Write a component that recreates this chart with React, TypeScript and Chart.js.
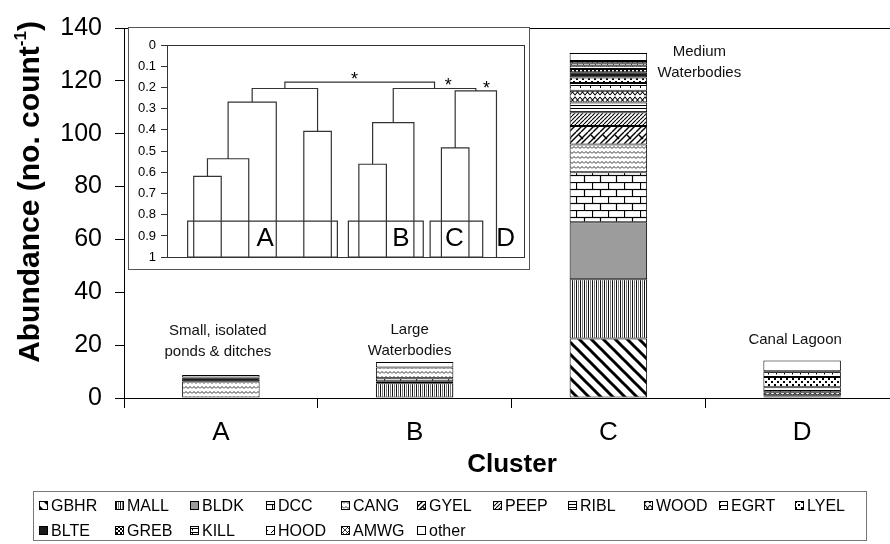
import React, { useEffect, useRef } from 'react';
import { Chart, registerables } from 'chart.js';

Chart.register(...registerables);

const FONT = '"Liberation Sans", Arial, Helvetica, sans-serif';

// ---------- main chart data ----------
const clusters = ['A', 'B', 'C', 'D'];
const yMin = 0;
const yMax = 140;
const yStep = 20;

const species = ['GBHR', 'MALL', 'BLDK', 'DCC', 'CANG', 'GYEL', 'PEEP', 'RIBL', 'WOOD', 'EGRT', 'LYEL', 'BLTE', 'GREB', 'KILL', 'HOOD', 'AMWG', 'other'];

// abundance per cluster [A, B, C, D]
const GBHR = [null, null, 22.5, 0.6];
const MALL = [null, 5.6, 22.4, 0.4];
const BLDK = [null, 0.7, 21.6, null];
const DCC = [null, 1.2, 18.9, null];
const CANG = [6.3, 4.0, 10.5, null];
const GYEL = [null, null, 7.0, null];
const PEEP = [null, null, 5.2, null];
const RIBL = [null, null, 3.7, null];
const WOOD = [null, null, 4.5, 1.2];
const EGRT = [null, null, 2.9, 1.9];
const LYEL = [null, null, 2.1, 3.8];
const BLTE = [1.5, null, 2.0, null];
const GREB = [null, null, 1.2, null];
const KILL = [null, null, 1.2, 2.2];
const HOOD = [null, null, 1.0, null];
const AMWG = [null, null, 0.8, null];
const other = [0.9, 2.1, 3.0, 4.1];

const seriesValues = [GBHR, MALL, BLDK, DCC, CANG, GYEL, PEEP, RIBL, WOOD, EGRT, LYEL, BLTE, GREB, KILL, HOOD, AMWG, other];

const clusterNotes = [
  ['Small, isolated', 'ponds & ditches'],
  ['Large', 'Waterbodies'],
  ['Medium', 'Waterbodies'],
  ['Canal Lagoon'],
];

// ---------- inset dendrogram data ----------
const leafCount = 12;
const mergeLeft = [0, 12, 13, 4, 14, 6, 17, 9, 19, 18, 16];
const mergeRight = [1, 2, 3, 5, 15, 7, 8, 10, 11, 20, 21];
const mergeHeight = [0.619, 0.536, 0.269, 0.407, 0.205, 0.562, 0.366, 0.485, 0.216, 0.205, 0.175];
const groupBoxStart = [-0.22, 5.62, 8.59];
const groupBoxEnd = [5.22, 8.34, 10.5];
const groupBoxTop = 0.83;
const groupNames = ['A', 'B', 'C', 'D'];
const groupLabelX = [2.6, 7.53, 9.47, 11.33];
const groupLabelY = 0.915;
const starX = [5.84, 9.25, 10.64];
const starY = [0.145, 0.175, 0.187];

// ---------- layout / style constants ----------
const noteLayout = [
  { dx: -3, dy: -44 },
  { dx: -5, dy: -32 },
  { dx: 91, dy: -1 },
  { dx: -7, dy: -21 },
];
const legendLayout = { left: 39, colWidth: 75.6, perRow: 11, rowY: [506, 531] };

function makePatterns(ctx: CanvasRenderingContext2D): any[] {
  const tile = (w: number, h: number, draw: (g: CanvasRenderingContext2D) => void) => {
    const c = document.createElement('canvas');
    c.width = w;
    c.height = h;
    const g = c.getContext('2d')!;
    g.fillStyle = '#fff';
    g.fillRect(0, 0, w, h);
    g.strokeStyle = '#000';
    g.fillStyle = '#000';
    g.lineWidth = 1;
    draw(g);
    return ctx.createPattern(c, 'repeat');
  };
  const line = (g: CanvasRenderingContext2D, pts: number[][]) => {
    g.beginPath();
    g.moveTo(pts[0][0], pts[0][1]);
    for (let i = 1; i < pts.length; i++) g.lineTo(pts[i][0], pts[i][1]);
    g.stroke();
  };
  return [
    // GBHR
    tile(12, 12, g => { g.lineWidth = 3; for (const o of [-12, 0, 12]) line(g, [[o - 1, -1], [o + 13, 13]]); }),
    // MALL
    tile(4, 4, g => { g.fillStyle = '#111'; g.fillRect(0, 0, 1, 4); g.fillStyle = '#777'; g.fillRect(2, 0, 1, 4); }),
    // BLDK
    '#9c9c9c',
    // DCC
    tile(16, 14, g => {
      g.lineWidth = 1.2;
      line(g, [[0, 0.5], [16, 0.5]]); line(g, [[0, 7.5], [16, 7.5]]);
      line(g, [[0.5, 0], [0.5, 7.5]]); line(g, [[8.5, 7.5], [8.5, 14]]);
    }),
    // CANG
    tile(8, 5, g => { g.strokeStyle = '#333'; line(g, [[0, 3.5], [2, 1.5], [4, 3.5], [6, 1.5], [8, 3.5]]); }),
    // GYEL
    tile(12, 12, g => {
      g.lineWidth = 1.4;
      for (const o of [-12, 0, 12]) { line(g, [[o, 12], [o + 12, 0]]); line(g, [[o + 5, 12], [o + 17, 0]]); }
      line(g, [[3, 3], [7, 7]]);
    }),
    // PEEP
    tile(4, 4, g => { g.lineWidth = 1.1; for (const o of [-4, 0, 4]) line(g, [[o, 4], [o + 4, 0]]); }),
    // RIBL
    tile(2, 3, g => { g.fillRect(0, 0, 2, 1); }),
    // WOOD
    tile(10, 8, g => { g.lineWidth = 1.1; line(g, [[0, 1], [5, 7], [10, 1]]); line(g, [[0, 7], [5, 1], [10, 7]]); }),
    // EGRT
    tile(10, 5, g => { line(g, [[0, 0.5], [10, 0.5]]); line(g, [[0.5, 0], [0.5, 3]]); }),
    // LYEL
    tile(6, 6, g => { g.fillRect(0, 0, 2, 2); g.fillRect(3, 3, 2, 2); }),
    // BLTE
    '#1a1a1a',
    // GREB
    tile(4, 4, g => { g.fillRect(0, 0, 2, 2); g.fillRect(2, 2, 2, 2); }),
    // KILL
    tile(8, 4, g => { line(g, [[0, 0.5], [8, 0.5]]); line(g, [[0.5, 0], [0.5, 2.5]]); }),
    // HOOD
    tile(6, 6, g => { line(g, [[1, 5], [4, 2]]); }),
    // AMWG
    tile(5, 5, g => { g.lineWidth = 0.8; line(g, [[0, 0], [5, 5]]); line(g, [[5, 0], [0, 5]]); }),
    // other
    '#ffffff',
  ];
}

const decorPlugin = {
  id: 'decor',
  afterDraw(chart: any) {
    const { ctx, chartArea: a } = chart;
    const xs = chart.scales.x;
    const ys = chart.scales.y;
    ctx.save();
    // top frame line
    ctx.strokeStyle = '#000';
    ctx.lineWidth = 1;
    ctx.beginPath();
    ctx.moveTo(a.left, Math.round(a.top) + 0.5);
    ctx.lineTo(a.right, Math.round(a.top) + 0.5);
    ctx.stroke();

    // y-axis title with superscript
    ctx.save();
    ctx.translate(29, 192);
    ctx.rotate(-Math.PI / 2);
    const t1 = 'Abundance (no. count';
    const t2 = '-1';
    const t3 = ')';
    ctx.font = `bold 30px ${FONT}`;
    const w1 = ctx.measureText(t1).width;
    const w3 = ctx.measureText(t3).width;
    ctx.font = `bold 17px ${FONT}`;
    const w2 = ctx.measureText(t2).width;
    let x = -(w1 + w2 + w3) / 2;
    ctx.fillStyle = '#000';
    ctx.textBaseline = 'alphabetic';
    ctx.textAlign = 'left';
    ctx.font = `bold 30px ${FONT}`;
    ctx.fillText(t1, x, 10);
    x += w1;
    ctx.font = `bold 17px ${FONT}`;
    ctx.fillText(t2, x, -3);
    x += w2;
    ctx.font = `bold 30px ${FONT}`;
    ctx.fillText(t3, x, 10);
    ctx.restore();

    // x-axis title
    ctx.font = `bold 26px ${FONT}`;
    ctx.fillStyle = '#000';
    ctx.textAlign = 'center';
    ctx.textBaseline = 'middle';
    ctx.fillText('Cluster', 512, 465);

    // cluster notes
    const totals = clusters.map((_, i) => seriesValues.reduce((s, arr) => s + (arr[i] || 0), 0));
    ctx.font = `15px ${FONT}`;
    ctx.fillStyle = '#111';
    clusterNotes.forEach((lines, i) => {
      const cx = xs.getPixelForValue(i) + noteLayout[i].dx;
      const top = ys.getPixelForValue(totals[i]) + noteLayout[i].dy;
      lines.forEach((ln, k) => ctx.fillText(ln, cx, top + k * 21));
    });

    // legend
    ctx.strokeStyle = '#777';
    ctx.lineWidth = 1;
    ctx.strokeRect(33.5, 491.5, 833, 49);
    ctx.font = `16px ${FONT}`;
    ctx.textAlign = 'left';
    ctx.textBaseline = 'middle';
    chart.data.datasets.forEach((ds: any, i: number) => {
      const row = Math.floor(i / legendLayout.perRow);
      const col = i % legendLayout.perRow;
      const lx = Math.round(legendLayout.left + col * legendLayout.colWidth);
      const ly = legendLayout.rowY[row];
      ctx.fillStyle = ds.backgroundColor;
      ctx.fillRect(lx, ly - 5, 9, 9);
      ctx.strokeStyle = '#000';
      ctx.strokeRect(lx + 0.5, ly - 4.5, 8, 8);
      ctx.fillStyle = '#000';
      ctx.fillText(ds.label, lx + 12, ly + 1);
    });
    ctx.restore();
  },
};

function dendroPoints() {
  const nodeX: number[] = [];
  const nodeH: number[] = [];
  for (let i = 0; i < leafCount; i++) { nodeX.push(i); nodeH.push(1); }
  const pts: any[] = [];
  mergeLeft.forEach((l, k) => {
    const r = mergeRight[k];
    const h = mergeHeight[k];
    pts.push({ x: nodeX[l], y: nodeH[l] }, { x: nodeX[l], y: h }, { x: nodeX[r], y: h }, { x: nodeX[r], y: nodeH[r] }, { x: nodeX[r], y: null });
    nodeX.push((nodeX[l] + nodeX[r]) / 2);
    nodeH.push(h);
  });
  return pts;
}

function boxPoints() {
  const pts: any[] = [];
  groupBoxStart.forEach((s, i) => {
    const e = groupBoxEnd[i];
    pts.push({ x: s, y: 1 }, { x: s, y: groupBoxTop }, { x: e, y: groupBoxTop }, { x: e, y: 1 }, { x: s, y: 1 }, { x: e, y: null });
  });
  return pts;
}

const insetPlugin = {
  id: 'insetDecor',
  beforeDraw(chart: any) {
    const { ctx, width, height } = chart;
    ctx.save();
    ctx.fillStyle = '#fff';
    ctx.fillRect(0, 0, width, height);
    ctx.restore();
  },
  afterDraw(chart: any) {
    const { ctx, width, height, chartArea: a } = chart;
    const xs = chart.scales.x;
    const ys = chart.scales.y;
    ctx.save();
    ctx.strokeStyle = '#555';
    ctx.lineWidth = 1;
    ctx.strokeRect(0.5, 0.5, width - 1, height - 1);
    ctx.strokeStyle = '#333';
    ctx.strokeRect(Math.round(a.left) + 0.5, Math.round(a.top) + 0.5, Math.round(a.right - a.left), Math.round(a.bottom - a.top));
    ctx.fillStyle = '#000';
    ctx.textAlign = 'center';
    ctx.textBaseline = 'middle';
    ctx.font = `26px ${FONT}`;
    groupNames.forEach((n, i) => ctx.fillText(n, xs.getPixelForValue(groupLabelX[i]), ys.getPixelForValue(groupLabelY)));
    ctx.font = `18px ${FONT}`;
    starX.forEach((sx, i) => ctx.fillText('*', xs.getPixelForValue(sx), ys.getPixelForValue(starY[i]) + 4));
    ctx.restore();
  },
};

export default function App() {
  const mainRef = useRef<HTMLCanvasElement>(null);
  const insetRef = useRef<HTMLCanvasElement>(null);

  useEffect(() => {
    const mc = mainRef.current!;
    const ic = insetRef.current!;
    const pats = makePatterns(mc.getContext('2d')!);

    const main = new Chart(mc, {
      type: 'bar',
      data: {
        labels: clusters,
        datasets: species.map((s, i) => ({
          label: s,
          data: seriesValues[i] as any,
          backgroundColor: pats[i],
          borderColor: '#000',
          borderWidth: 1,
          borderSkipped: false,
          categoryPercentage: 1,
          barPercentage: 0.4,
        })),
      },
      options: {
        responsive: false,
        animation: false,
        layout: { padding: { top: 21, right: 11, left: 0, bottom: 0 } },
        plugins: { legend: { display: false }, tooltip: { enabled: false } },
        scales: {
          x: {
            stacked: true,
            grid: { offset: true, drawOnChartArea: false, color: '#000', tickLength: 10 },
            border: { color: '#000' },
            ticks: { font: { size: 26, family: FONT }, color: '#000', padding: 9 },
            afterFit: (s: any) => { s.height = 146; },
          },
          y: {
            stacked: true,
            min: yMin,
            max: yMax,
            ticks: { stepSize: yStep, font: { size: 25, family: FONT }, color: '#000', padding: 13 },
            grid: { drawOnChartArea: false, color: '#000', tickLength: 9 },
            border: { color: '#000' },
            afterFit: (s: any) => { s.width = 124; },
          },
        },
      } as any,
      plugins: [decorPlugin],
    });

    const inset = new Chart(ic, {
      type: 'scatter',
      data: {
        datasets: [
          { data: dendroPoints(), showLine: true, spanGaps: false, borderColor: '#333', borderWidth: 1.2, pointRadius: 0 },
          { data: boxPoints(), showLine: true, spanGaps: false, borderColor: '#333', borderWidth: 1.2, pointRadius: 0 },
        ],
      },
      options: {
        responsive: false,
        animation: false,
        layout: { padding: { top: 18, right: 6, bottom: 6, left: 0 } },
        plugins: { legend: { display: false }, tooltip: { enabled: false } },
        scales: {
          x: { type: 'linear', min: -0.97, max: 12, display: false },
          y: {
            type: 'linear',
            reverse: true,
            min: 0,
            max: 1,
            ticks: {
              stepSize: 0.1,
              font: { size: 13, family: FONT },
              color: '#000',
              padding: 5,
              callback: (v: any) => String(Number(Number(v).toFixed(1))),
            },
            grid: { drawOnChartArea: false, color: '#333', tickLength: 6 },
            border: { color: '#333' },
            afterFit: (s: any) => { s.width = 39; },
          },
        },
      } as any,
      plugins: [insetPlugin],
    });

    return () => {
      main.destroy();
      inset.destroy();
    };
  }, []);

  return (
    <div style={{ position: 'fixed', left: 0, top: 0, width: 890, height: 544, overflow: 'hidden', background: '#fff' }}>
      <canvas ref={mainRef} width={910} height={544} style={{ position: 'absolute', left: 0, top: 0 }} />
      <canvas ref={insetRef} width={402} height={243} style={{ position: 'absolute', left: 128, top: 27 }} />
    </div>
  );
}
